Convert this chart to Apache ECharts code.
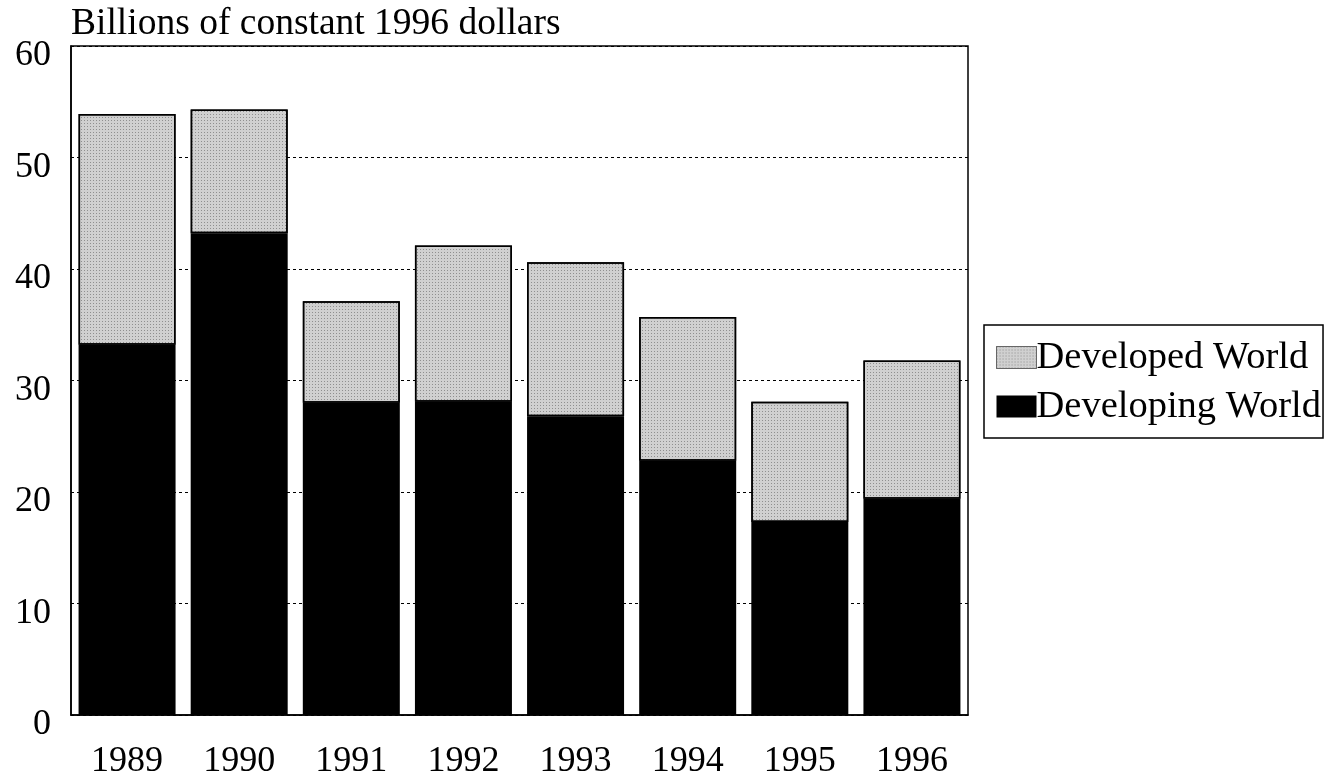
<!DOCTYPE html>
<html>
<head>
<meta charset="utf-8">
<script src="https://cdn.jsdelivr.net/npm/echarts@6/dist/echarts.min.js"></script>
<style>
html,body{margin:0;padding:0;background:#fff;}
#chart{width:1324px;height:780px;}
</style>
</head>
<body>
<div id="chart"></div>
<script>
const years = ['1989','1990','1991','1992','1993','1994','1995','1996'];
const developing = [33.2, 43.2, 28.0, 28.1, 26.8, 22.8, 17.3, 19.4];
const developed = [20.7, 11.1, 9.1, 14.0, 13.8, 12.9, 10.8, 12.4];
const yTicks = [0, 10, 20, 30, 40, 50, 60];
const titleText = 'Billions of constant 1996 dollars';

const font = '"Liberation Serif", "Times New Roman", serif';
const chart = echarts.init(document.getElementById('chart'), null, {renderer: 'canvas'});
chart.setOption({
  animation: false,
  backgroundColor: '#fff',
  title: {
    text: titleText,
    left: 71, top: 5,
    padding: 0,
    textStyle: {fontFamily: font, fontSize: 37.5, fontWeight: 'normal', color: '#000'}
  },
  legend: {
    orient: 'vertical',
    left: 984, top: 325,
    padding: [13, 2, 12, 12],
    itemGap: 10,
    itemWidth: 40, itemHeight: 22,
    icon: 'rect',
    borderColor: '#000', borderWidth: 1.5, borderRadius: 0,
    textStyle: {fontFamily: font, fontSize: 38.5, color: '#000', padding: [0, 0, 0, -5]},
    data: [
      {name: 'Developed World', itemStyle: {color: '#d0d0d0', borderColor: '#666', borderWidth: 1}},
      {name: 'Developing World', itemStyle: {color: '#000'}}
    ]
  },
  grid: {
    left: 71, right: 356, top: 46, bottom: 62,
    show: true, borderColor: '#000', borderWidth: 1.5, backgroundColor: 'transparent'
  },
  xAxis: {
    type: 'category',
    data: years,
    axisLine: {lineStyle: {color: '#000', width: 1.5}},
    axisTick: {show: false},
    axisLabel: {fontFamily: font, fontSize: 36, color: '#000', margin: 29}
  },
  yAxis: {
    type: 'value',
    min: 0, max: 60, interval: 10,
    axisLine: {show: true, lineStyle: {color: '#000', width: 1.5}},
    axisTick: {show: false},
    axisLabel: {fontFamily: font, fontSize: 36, color: '#000', margin: 20,
      verticalAlign: 'top', lineHeight: 20,
      formatter: v => yTicks.includes(v) ? String(v) : ''},
    splitLine: {show: true, lineStyle: {color: '#000', type: [3, 3], width: 1}}
  },
  series: [
    {
      name: 'Developing World',
      type: 'bar', stack: 'total',
      barWidth: 97,
      data: developing,
      itemStyle: {color: '#000'}
    },
    {
      name: 'Developed World',
      type: 'bar', stack: 'total',
      barWidth: 97,
      data: developed,
      itemStyle: {
        color: '#d0d0d0', borderColor: '#000', borderWidth: 1.5,
        decal: {symbol: 'rect', symbolSize: 1, dashArrayX: [1, 2], dashArrayY: [1, 2], color: 'rgba(90,90,90,0.55)', rotation: 0}
      }
    }
  ]
});
</script>
</body>
</html>
